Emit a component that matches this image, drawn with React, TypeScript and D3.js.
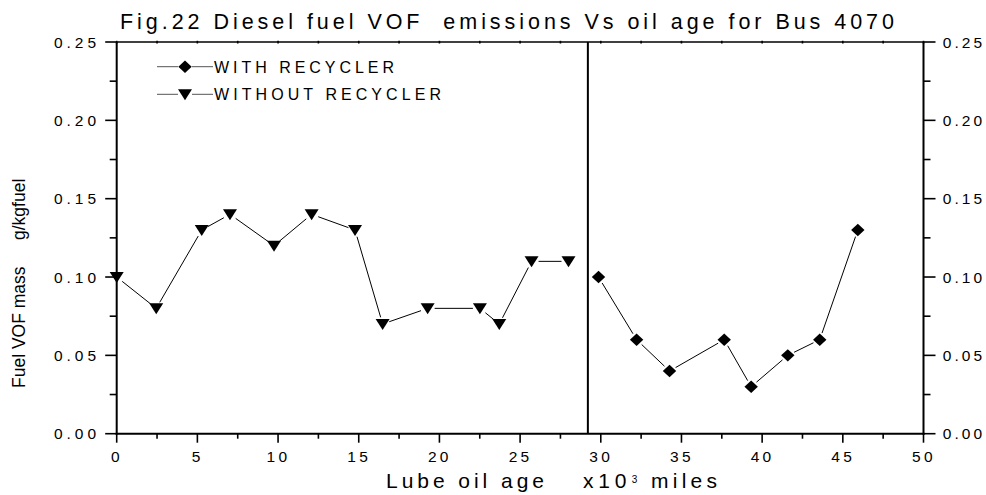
import React from "react";
import * as d3 from "d3";

const withoutX = [0, 2.45, 5.27, 7.02, 9.75, 12.08, 14.77, 16.48, 19.27, 22.51, 23.71, 25.71, 28.0];
const withoutY = [0.10, 0.08, 0.13, 0.14, 0.12, 0.14, 0.13, 0.07, 0.08, 0.08, 0.07, 0.11, 0.11];
const withX = [29.86, 32.22, 34.26, 37.65, 39.32, 41.59, 43.57, 45.93];
const withY = [0.10, 0.06, 0.04, 0.06, 0.03, 0.05, 0.06, 0.13];
const dividerX = 29.2;
const xTicks = [0, 5, 10, 15, 20, 25, 30, 35, 40, 45, 50];
const yTicks = [0, 0.05, 0.1, 0.15, 0.2, 0.25];
const title = "Fig.22 Diesel fuel VOF  emissions Vs oil age for Bus 4070";
const legendLabels = ["WITH RECYCLER", "WITHOUT RECYCLER"];

const FONT = "'Liberation Sans', Arial, sans-serif";

function shortenedSegments(pts: [number, number][], gap: number) {
  const segs: [number, number, number, number][] = [];
  for (let i = 0; i < pts.length - 1; i++) {
    const [x1, y1] = pts[i];
    const [x2, y2] = pts[i + 1];
    const dx = x2 - x1, dy = y2 - y1;
    const len = Math.hypot(dx, dy);
    if (len <= 2 * gap) continue;
    const ux = dx / len, uy = dy / len;
    segs.push([x1 + ux * gap, y1 + uy * gap, x2 - ux * gap, y2 - uy * gap]);
  }
  return segs;
}

const diamond = (cx: number, cy: number) =>
  `M${cx},${cy - 6.2}L${cx + 6.7},${cy}L${cx},${cy + 6.2}L${cx - 6.7},${cy}Z`;
const triangle = (cx: number, cy: number) =>
  `M${cx - 7},${cy - 5}L${cx + 7},${cy - 5}L${cx},${cy + 6}Z`;

export default function App() {
  const x = d3.scaleLinear().domain([0, 50]).range([116.7, 923.5]);
  const y = d3.scaleLinear().domain([0, 0.25]).range([433.7, 42]);
  const minorX = d3.range(0, 50.01, 2.5);
  const minorY = d3.range(0, 0.2501, 0.025);

  const ptsWithout: [number, number][] = withoutX.map((v, i) => [x(v), y(withoutY[i])]);
  const ptsWith: [number, number][] = withX.map((v, i) => [x(v), y(withY[i])]);

  const isMajorX = (v: number) => Math.abs(v / 5 - Math.round(v / 5)) < 1e-6;
  const isMajorY = (v: number) => Math.abs(v / 0.05 - Math.round(v / 0.05)) < 1e-6;

  return (
    <svg
      width={986}
      height={495}
      style={{ position: "absolute", left: 0, top: 0, background: "#fff" }}
      fontFamily={FONT}
    >
      <rect x={0} y={0} width={986} height={495} fill="#fff" />
      {/* title */}
      <text
        x={120}
        y={29}
        fontSize={21.5}
        textLength={774}
        lengthAdjust="spacing"
        style={{ whiteSpace: "pre" }}
        fill="#000"
      >
        {title}
      </text>

      {/* minor/major ticks left & right */}
      {minorY.map((v, i) => {
        const major = isMajorY(v);
        return (
          <g key={"yt" + i} stroke="#000" strokeWidth={1.6}>
            <line x1={x(0) - (major ? 11.5 : 7)} x2={x(0)} y1={y(v)} y2={y(v)} />
            <line x1={x(50)} x2={x(50) + (major ? 12 : 7)} y1={y(v)} y2={y(v)} />
          </g>
        );
      })}
      {/* bottom & top ticks */}
      {minorX.map((v, i) => {
        const major = isMajorX(v);
        return (
          <g key={"xt" + i} stroke="#000" strokeWidth={1.6}>
            <line x1={x(v)} x2={x(v)} y1={y(0)} y2={y(0) + (major ? 9 : 5)} />
            <line x1={x(v)} x2={x(v)} y1={y(0.25) - 1.2} y2={y(0.25) + 1.5} />
          </g>
        );
      })}

      {/* frame */}
      <line x1={x(0)} x2={x(50)} y1={y(0.25)} y2={y(0.25)} stroke="#000" strokeWidth={1.5} />
      <line x1={x(0) - 1} x2={x(50) + 1} y1={y(0)} y2={y(0)} stroke="#000" strokeWidth={2} />
      <line x1={x(0)} x2={x(0)} y1={y(0.25)} y2={y(0) + 1} stroke="#000" strokeWidth={2} />
      <line x1={x(50)} x2={x(50)} y1={y(0.25)} y2={y(0) + 1} stroke="#000" strokeWidth={2} />
      <line x1={x(dividerX)} x2={x(dividerX)} y1={y(0.25)} y2={y(0)} stroke="#000" strokeWidth={2} />

      {/* y tick labels */}
      {yTicks.map((v, i) => (
        <g key={"yl" + i} fontSize={15.5} fill="#000">
          <text x={54} y={y(v) + 5.5} textLength={42} lengthAdjust="spacing">{v.toFixed(2)}</text>
          <text x={942.7} y={y(v) + 5.5} textLength={39.5} lengthAdjust="spacing">{v.toFixed(2)}</text>
        </g>
      ))}
      {/* x tick labels */}
      {xTicks.map((v, i) => {
        const s = String(v);
        const w = s.length === 1 ? 9 : 20.5;
        return (
          <text
            key={"xl" + i}
            x={x(v) - w / 2 - 1.2}
            y={461.5}
            fontSize={15.5}
            textLength={w}
            lengthAdjust="spacing"
            fill="#000"
          >
            {s}
          </text>
        );
      })}

      {/* axis titles */}
      <text x={386} y={488.3} fontSize={21} textLength={158} lengthAdjust="spacing" fill="#000">
        Lube oil age
      </text>
      <text x={583} y={488.3} fontSize={21} textLength={43.5} lengthAdjust="spacing" fill="#000">
        x10
      </text>
      <text x={631.7} y={483} fontSize={10} fill="#000">
        3
      </text>
      <text x={651} y={488.3} fontSize={21} textLength={66} lengthAdjust="spacing" fill="#000">
        miles
      </text>

      <text transform="translate(25,388) rotate(-90)" fontSize={17.5} fill="#000">
        Fuel VOF mass
      </text>
      <text transform="translate(25,240) rotate(-90)" fontSize={17.5} fill="#000">
        g/kgfuel
      </text>

      {/* data lines */}
      {shortenedSegments(ptsWithout, 7).map((s, i) => (
        <line key={"lw" + i} x1={s[0]} y1={s[1]} x2={s[2]} y2={s[3]} stroke="#000" strokeWidth={1} />
      ))}
      {shortenedSegments(ptsWith, 7).map((s, i) => (
        <line key={"lr" + i} x1={s[0]} y1={s[1]} x2={s[2]} y2={s[3]} stroke="#000" strokeWidth={1} />
      ))}
      {ptsWithout.map((p, i) => (
        <path key={"mw" + i} d={triangle(p[0], p[1])} fill="#000" />
      ))}
      {ptsWith.map((p, i) => (
        <path key={"mr" + i} d={diamond(p[0], p[1])} fill="#000" />
      ))}

      {/* legend */}
      <g>
        <line x1={157} x2={178} y1={66.7} y2={66.7} stroke="#555" strokeWidth={1} />
        <line x1={192} x2={213} y1={66.7} y2={66.7} stroke="#555" strokeWidth={1} />
        <path d={diamond(185, 66.7)} fill="#000" />
        <text x={214} y={73.3} fontSize={16} textLength={180} lengthAdjust="spacing" fill="#000">
          {legendLabels[0]}
        </text>
        <line x1={157} x2={178} y1={94.3} y2={94.3} stroke="#555" strokeWidth={1} />
        <line x1={192} x2={213} y1={94.3} y2={94.3} stroke="#555" strokeWidth={1} />
        <path d={triangle(185, 94.3)} fill="#000" />
        <text x={214} y={100} fontSize={16} textLength={227} lengthAdjust="spacing" fill="#000">
          {legendLabels[1]}
        </text>
      </g>
    </svg>
  );
}
